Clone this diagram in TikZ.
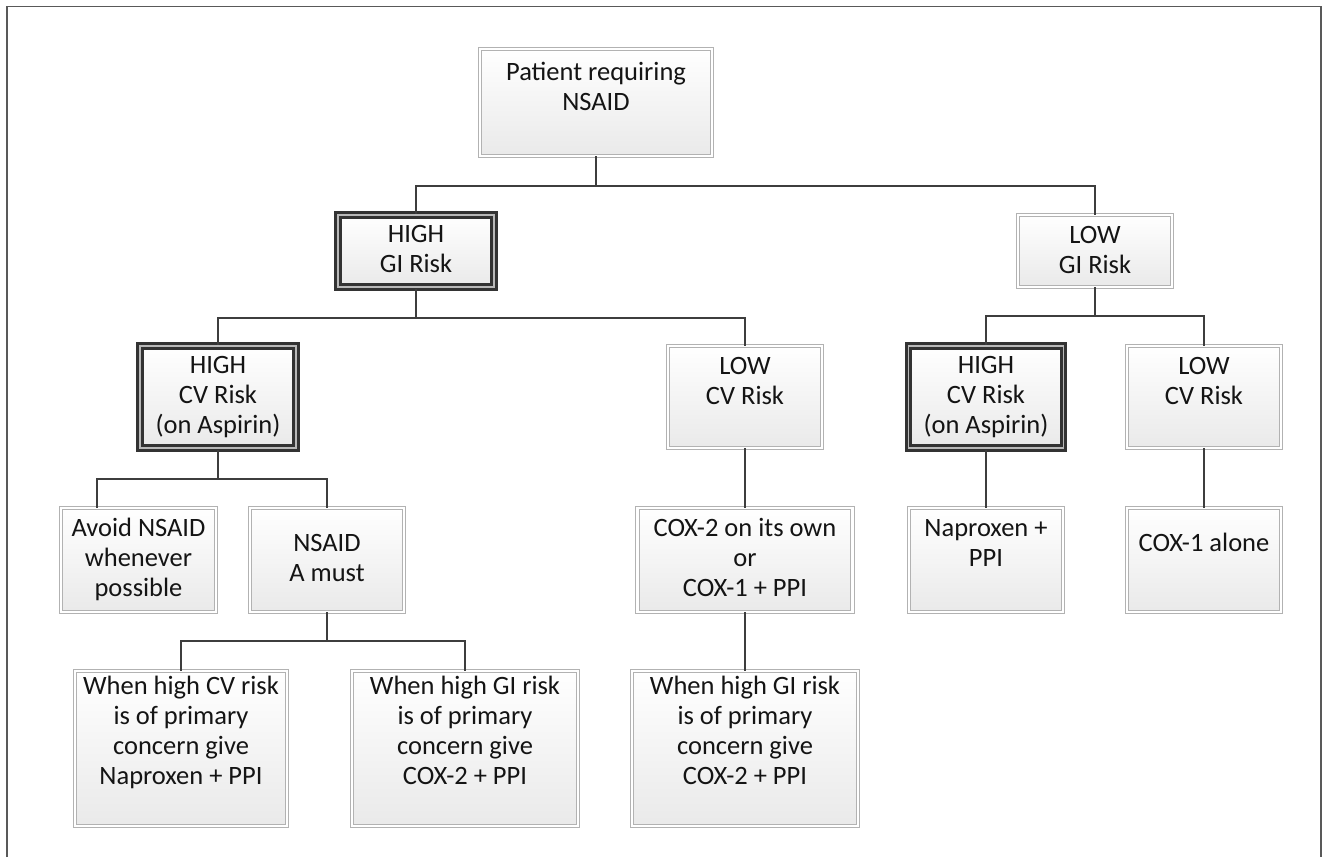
\documentclass[tikz,border=0pt]{standalone}
\usepackage{fontspec}
\setmainfont{Carlito}
\usetikzlibrary{shadows}
\begin{document}
\begin{tikzpicture}[x=1bp,y=-1bp,
  conn/.style={draw=black!76, line width=2bp},
  nbox/.style={rectangle, inner sep=0pt, draw=gray!60, line width=0.9bp, double=white, double distance=2.6bp,
    top color=white, bottom color=gray!17,
    drop shadow={shadow xshift=2bp, shadow yshift=-2bp, opacity=0.2}},
  tbox/.style={nbox, draw=black!80, line width=3bp, double=gray!55, double distance=1.1bp},
  txt/.style={anchor=north, inner sep=0pt, align=center, font=\fontsize{26.5bp}{30bp}\selectfont, text=black!92}]
\useasboundingbox (0,0) rectangle (1324,857);
% frame
\draw[draw=gray!70!black, line width=1.5bp] (7,857) -- (7,6.5) -- (1321,6.5) -- (1321,857);
% boxes
\node[nbox, minimum width=232bp, minimum height=107bp] (root) at (596,102.5) {};
\node[tbox, minimum width=156bp, minimum height=72bp] (hgi) at (416,251) {};
\node[nbox, minimum width=154bp, minimum height=72bp] (lgi) at (1095,251) {};
\node[tbox, minimum width=156bp, minimum height=102bp] (hcvl) at (218,397) {};
\node[nbox, minimum width=154bp, minimum height=102bp] (lcvm) at (745,397) {};
\node[tbox, minimum width=155bp, minimum height=102bp] (hcvr) at (986,397) {};
\node[nbox, minimum width=154bp, minimum height=102bp] (lcvr) at (1204,397) {};
\node[nbox, minimum width=155bp, minimum height=104bp] (avoid) at (138.5,560) {};
\node[nbox, minimum width=154bp, minimum height=104bp] (nam) at (327,560) {};
\node[nbox, minimum width=215bp, minimum height=104bp] (cox2) at (745,560) {};
\node[nbox, minimum width=154bp, minimum height=104bp] (napr) at (986,560) {};
\node[nbox, minimum width=154bp, minimum height=104bp] (cox1) at (1204,560) {};
\node[nbox, minimum width=212bp, minimum height=155bp] (w1) at (181,748.5) {};
\node[nbox, minimum width=226bp, minimum height=155bp] (w2) at (465,748.5) {};
\node[nbox, minimum width=226bp, minimum height=155bp] (w3) at (745,748.5) {};
% texts
\node[txt] (troot) at ([yshift=-11bp]root.north) {\strut Patient requiring\\NSAID};
\node[txt] (thgi) at ([yshift=-8bp]hgi.north) {\strut HIGH\\GI Risk};
\node[txt] (tlgi) at ([yshift=-8bp]lgi.north) {\strut LOW\\GI Risk};
\node[txt] (thcvl) at ([yshift=-8bp]hcvl.north) {\strut HIGH\\CV Risk\\(on Aspirin)};
\node[txt] (tlcvm) at ([yshift=-8bp]lcvm.north) {\strut LOW\\CV Risk};
\node[txt] (thcvr) at ([yshift=-8bp]hcvr.north) {\strut HIGH\\CV Risk\\(on Aspirin)};
\node[txt] (tlcvr) at ([yshift=-8bp]lcvr.north) {\strut LOW\\CV Risk};
\node[txt] (tavoid) at ([yshift=-8bp]avoid.north) {\strut Avoid NSAID\\whenever\\possible};
\node[txt] (tnam) at ([yshift=-23bp]nam.north) {\strut NSAID\\A must};
\node[txt] (tcox2) at ([yshift=-8bp]cox2.north) {\strut COX-2 on its own\\or\\COX-1 + PPI};
\node[txt] (tnapr) at ([yshift=-8bp]napr.north) {\strut Naproxen +\\PPI};
\node[txt] (tcox1) at ([yshift=-23bp]cox1.north) {\strut COX-1 alone};
\node[txt] (tw1) at ([yshift=-3bp]w1.north) {\strut When high CV risk\\is of primary\\concern give\\Naproxen + PPI};
\node[txt] (tw2) at ([yshift=-3bp]w2.north) {\strut When high GI risk\\is of primary\\concern give\\COX-2 + PPI};
\node[txt] (tw3) at ([yshift=-3bp]w3.north) {\strut When high GI risk\\is of primary\\concern give\\COX-2 + PPI};
% connectors
\draw[conn] (root.south) -- ++(0,30) -| (hgi.north);
\draw[conn] (root.south) -- ++(0,30) -| (lgi.north);
\draw[conn] (hgi.south) -- ++(0,29) -| (hcvl.north);
\draw[conn] (hgi.south) -- ++(0,29) -| (lcvm.north);
\draw[conn] (lgi.south) -- ++(0,29) -| (hcvr.north);
\draw[conn] (lgi.south) -- ++(0,29) -| (lcvr.north);
\draw[conn] (hcvl.south) -- ++(0,29) -| ([xshift=36bp]avoid.north west);
\draw[conn] (hcvl.south) -- ++(0,29) -| (nam.north);
\draw[conn] (nam.south) -- ++(0,29) -| (w1.north);
\draw[conn] (nam.south) -- ++(0,29) -| (w2.north);
\draw[conn] (lcvm.south) -- (cox2.north);
\draw[conn] (cox2.south) -- (w3.north);
\draw[conn] (hcvr.south) -- (napr.north);
\draw[conn] (lcvr.south) -- (cox1.north);
\end{tikzpicture}
\end{document}
